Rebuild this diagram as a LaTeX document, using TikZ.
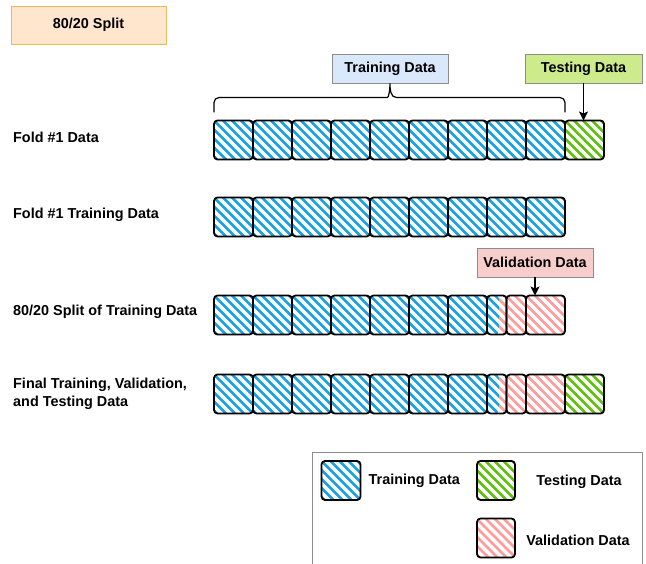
\documentclass[tikz,border=0pt]{standalone}
\usepackage{fontspec}
\setmainfont{Liberation Sans}
\usetikzlibrary{shapes,arrows,arrows.meta,positioning,calc}
\definecolor{trainblue}{HTML}{1BA1E2}
\definecolor{testgreen}{HTML}{60C010}
\definecolor{valpink}{HTML}{FF9D9D}
\definecolor{splitfill}{HTML}{FFE6CC}
\definecolor{splitedge}{HTML}{EBB85A}
\definecolor{trainfill}{HTML}{DAE8FC}
\definecolor{testfill}{HTML}{CDEB8B}
\definecolor{valfill}{HTML}{F8CECC}
\newcommand{\hatchlines}[1]{\foreach \k in {-54,-45,...,54}
	\draw[#1, line width=2.8pt] ($(path picture bounding box.center)+(\k-25,-25)$) -- ++(50,50);}
\tikzset{%
	hatch/.style={path picture={\hatchlines{#1}}},
	datacell/.style={rectangle, rounded corners=3.5pt, draw=black, line width=1.8pt, inner sep=0pt, outer sep=0pt, minimum width=39pt, minimum height=39pt},
	traincell/.style={datacell, hatch=trainblue},
	testcell/.style={datacell, hatch=testgreen},
	valcell/.style={datacell, hatch=valpink},
	halfcell/.style={minimum width=19.5pt},
	mixcell/.style={datacell, halfcell, path picture={
		\begin{scope}
			\clip (path picture bounding box.south west) rectangle ([xshift=12pt]path picture bounding box.north west);
			\hatchlines{trainblue}
		\end{scope}
		\begin{scope}
			\clip ([xshift=12pt]path picture bounding box.south west) rectangle (path picture bounding box.north east);
			\hatchlines{valpink}
		\end{scope}}},
	lbl/.style={font=\bfseries\fontsize{14.4}{18}\selectfont, anchor=west, align=left, inner sep=0pt},
	tagbox/.style={rectangle, draw=gray!90, line width=0.8pt, minimum width=116pt, minimum height=29pt, font=\bfseries\fontsize{14.4}{17}\selectfont},
	brace/.style={draw=black, line width=1.2pt},
	pt/.style={draw=black, line width=1.3pt, ->, >={Stealth[length=9pt,width=9pt,inset=2pt]}}
}

\begin{document}
\begin{tikzpicture}[x=1pt, y=-1pt]
	\useasboundingbox (0,0) rectangle (646,564);

	\node[tagbox, fill=splitfill, draw=splitedge, minimum width=155pt, minimum height=38pt] (split) at (88.5,25) {80/20 Split};

	% row labels
	\node[lbl] (foldall) at (13,137) {Fold \#1 Data};
	\node[lbl] (foldtrain) at (13,215) {Fold \#1 Training Data};
	\node[lbl] (foldsplit) at (13,312) {80/20 Split of Training Data};
	\node[lbl] (foldfinal) at (13,394) {Final Training, Validation,\\and Testing Data};

	% fold #1 data
	\node[traincell] (fa1) at (233.5,140) {};
	\node[traincell, right=0pt of fa1] (fa2) {};
	\node[traincell, right=0pt of fa2] (fa3) {};
	\node[traincell, right=0pt of fa3] (fa4) {};
	\node[traincell, right=0pt of fa4] (fa5) {};
	\node[traincell, right=0pt of fa5] (fa6) {};
	\node[traincell, right=0pt of fa6] (fa7) {};
	\node[traincell, right=0pt of fa7] (fa8) {};
	\node[traincell, right=0pt of fa8] (fa9) {};
	\node[testcell, right=0pt of fa9] (fa10) {};

	% fold #1 training data
	\node[traincell] (fb1) at (233.5,217) {};
	\node[traincell, right=0pt of fb1] (fb2) {};
	\node[traincell, right=0pt of fb2] (fb3) {};
	\node[traincell, right=0pt of fb3] (fb4) {};
	\node[traincell, right=0pt of fb4] (fb5) {};
	\node[traincell, right=0pt of fb5] (fb6) {};
	\node[traincell, right=0pt of fb6] (fb7) {};
	\node[traincell, right=0pt of fb7] (fb8) {};
	\node[traincell, right=0pt of fb8] (fb9) {};

	% 80/20 split of training data
	\node[traincell] (fc1) at (233.5,315) {};
	\node[traincell, right=0pt of fc1] (fc2) {};
	\node[traincell, right=0pt of fc2] (fc3) {};
	\node[traincell, right=0pt of fc3] (fc4) {};
	\node[traincell, right=0pt of fc4] (fc5) {};
	\node[traincell, right=0pt of fc5] (fc6) {};
	\node[traincell, right=0pt of fc6] (fc7) {};
	\node[mixcell, right=0pt of fc7] (fc8) {};
	\node[valcell, halfcell, right=0pt of fc8] (fc9) {};
	\node[valcell, right=0pt of fc9] (fc10) {};

	% final training, validation and testing data
	\node[traincell] (fd1) at (233.5,394) {};
	\node[traincell, right=0pt of fd1] (fd2) {};
	\node[traincell, right=0pt of fd2] (fd3) {};
	\node[traincell, right=0pt of fd3] (fd4) {};
	\node[traincell, right=0pt of fd4] (fd5) {};
	\node[traincell, right=0pt of fd5] (fd6) {};
	\node[traincell, right=0pt of fd6] (fd7) {};
	\node[mixcell, right=0pt of fd7] (fd8) {};
	\node[valcell, halfcell, right=0pt of fd8] (fd9) {};
	\node[valcell, right=0pt of fd9] (fd10) {};
	\node[testcell, right=0pt of fd10] (fd11) {};

	% tags
	\node[tagbox, fill=trainfill] (trainlbl) at (390,68.5) {Training Data};
	\node[tagbox, fill=testfill, minimum width=117pt] (testlbl) at (583.5,68.5) {Testing Data};
	\node[tagbox, fill=valfill] (vallbl) at (535,262.5) {Validation Data};

	\coordinate (bracemid) at ($(fa1.north west)!0.5!(fa9.north east)+(0,-23)$);
	\draw[brace] ([yshift=8pt]fa1.north west) [rounded corners=5pt] |- ([xshift=-7pt]bracemid)
		[sharp corners] to[out=0,in=-90] (trainlbl.south) to[out=-90,in=180] ([xshift=7pt]bracemid)
		[rounded corners=5pt] -| ([yshift=8pt]fa9.north east);

	\draw[pt] (testlbl.south) -- (testlbl.south |- fa10.north);
	\draw[pt] (vallbl.south) -- (vallbl.south |- fc10.north);

	% legend
	\draw[gray!90, line width=0.9pt] (312,570) |- (642,452) -- (642,570);
	\node[traincell] (keytrain) at (341,480.5) {};
	\node[lbl, right=8pt of keytrain] (keytraintxt) {Training Data};
	\node[testcell, minimum width=38pt] (keytest) at (496,480.5) {};
	\node[lbl, anchor=center] (keytesttxt) at (579,482) {Testing Data};
	\node[valcell, minimum width=38pt] (keyval) at (496,538) {};
	\node[lbl, anchor=center] (keyvaltxt) at (578,540) {Validation Data};
\end{tikzpicture}
\end{document}
